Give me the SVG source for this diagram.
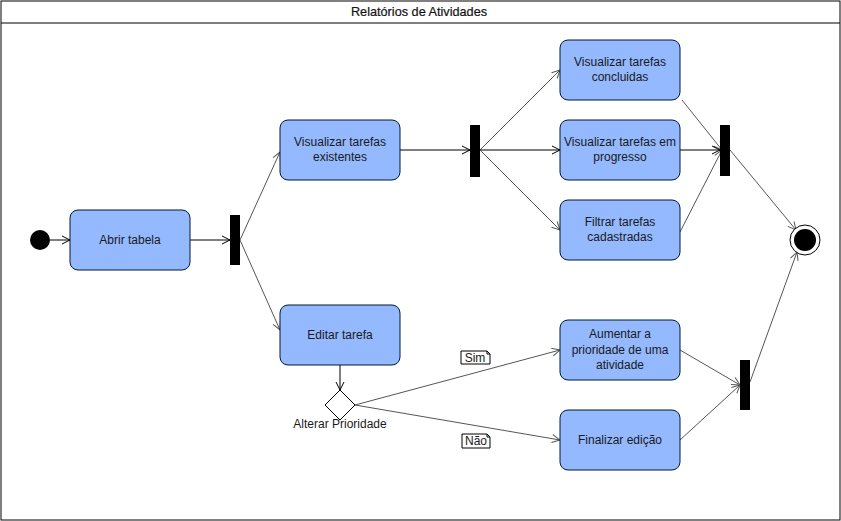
<svg xmlns="http://www.w3.org/2000/svg" width="841" height="521" viewBox="0 0 841 521">
<style>
text{font-family:"Liberation Sans",Arial,sans-serif;font-size:12px;fill:#1a1a1a;text-anchor:middle}
.act{fill:#94b9ff;stroke:#001a33;stroke-width:1}
.bar{fill:#000}
.e{fill:none;stroke:#000;stroke-width:1}
.g{fill:none;stroke:#555;stroke-width:1}
.note{fill:#fff;stroke:#000;stroke-width:1}
</style>
<defs>
<marker id="ab" markerWidth="10" markerHeight="10" refX="9" refY="5" orient="auto" markerUnits="userSpaceOnUse"><path d="M1,1 L9,5 L1,9" fill="none" stroke="#000" stroke-width="1"/></marker>
<marker id="ag" markerWidth="10" markerHeight="10" refX="9" refY="5" orient="auto" markerUnits="userSpaceOnUse"><path d="M1,1 L9,5 L1,9" fill="none" stroke="#555" stroke-width="1"/></marker>
</defs>
<rect x="0" y="0" width="841" height="521" fill="#fff"/>
<g id="frame">
<rect x="1" y="1" width="839" height="519" fill="none" stroke="#000"/>
<line x1="1" y1="23" x2="840" y2="23" stroke="#000"/>
<text x="419" y="16" fill="#000" style="font-size:12.7px" stroke="#000" stroke-width="0.2">Relatórios de Atividades</text>
</g>
<g id="connectors">
<line class="e" x1="50" y1="240" x2="70" y2="240" marker-end="url(#ab)"/>
<line class="e" x1="190" y1="240" x2="230" y2="240" marker-end="url(#ab)"/>
<line class="g" x1="240" y1="240" x2="280" y2="152" marker-end="url(#ag)"/>
<line class="g" x1="240" y1="240" x2="280" y2="330" marker-end="url(#ag)"/>
<line class="e" x1="400" y1="150" x2="470" y2="150" marker-end="url(#ab)"/>
<line class="g" x1="480" y1="150" x2="560" y2="70" marker-end="url(#ag)"/>
<line class="e" x1="480" y1="150" x2="560" y2="150" marker-end="url(#ab)"/>
<line class="g" x1="480" y1="150" x2="560" y2="230" marker-end="url(#ag)"/>
<line class="g" x1="682" y1="100" x2="722" y2="150" marker-end="url(#ag)"/>
<line class="e" x1="680" y1="150" x2="720" y2="150" marker-end="url(#ab)"/>
<line class="g" x1="680" y1="232" x2="722" y2="150" marker-end="url(#ag)"/>
<line class="g" x1="730" y1="150" x2="796" y2="230" marker-end="url(#ag)"/>
<line class="e" x1="340" y1="365" x2="340" y2="390" marker-end="url(#ab)"/>
<line class="g" x1="355" y1="405" x2="560" y2="350" marker-end="url(#ag)"/>
<line class="g" x1="355" y1="405" x2="560" y2="440" marker-end="url(#ag)"/>
<line class="g" x1="680" y1="350" x2="740" y2="385" marker-end="url(#ag)"/>
<line class="g" x1="680" y1="440" x2="740" y2="385" marker-end="url(#ag)"/>
<line class="g" x1="750" y1="382" x2="797" y2="252" marker-end="url(#ag)"/>
</g>
<g id="start"><circle cx="40" cy="240" r="10" fill="#000"/></g>
<g id="abrir"><rect class="act" x="70" y="210" width="120" height="60" rx="8"/><text x="130" y="244">Abrir tabela</text></g>
<g id="fork1"><rect class="bar" x="230" y="215" width="10" height="50"/></g>
<g id="vexist"><rect class="act" x="280" y="120" width="120" height="60" rx="8"/><text x="340" y="146">Visualizar tarefas</text><text x="340" y="161">existentes</text></g>
<g id="editar"><rect class="act" x="280" y="305" width="120" height="60" rx="8"/><text x="340" y="339">Editar tarefa</text></g>
<g id="fork2"><rect class="bar" x="470" y="125" width="10" height="52"/></g>
<g id="vconc"><rect class="act" x="560" y="40" width="120" height="60" rx="8"/><text x="620" y="66">Visualizar tarefas</text><text x="620" y="81">concluidas</text></g>
<g id="vprog"><rect class="act" x="560" y="120" width="120" height="60" rx="8"/><text x="620" y="146">Visualizar tarefas em</text><text x="620" y="161">progresso</text></g>
<g id="filtrar"><rect class="act" x="560" y="200" width="120" height="60" rx="8"/><text x="620" y="226">Filtrar tarefas</text><text x="620" y="241">cadastradas</text></g>
<g id="join1"><rect class="bar" x="720" y="125" width="10" height="51"/></g>
<g id="end"><circle cx="805" cy="240" r="15" fill="#fff" stroke="#000"/><circle cx="805" cy="240" r="11" fill="#000"/></g>
<g id="aumentar"><rect class="act" x="560" y="320" width="120" height="60" rx="8"/><text x="620" y="338">Aumentar a</text><text x="620" y="354">prioridade de uma</text><text x="620" y="369">atividade</text></g>
<g id="finalizar"><rect class="act" x="560" y="410" width="120" height="60" rx="8"/><text x="620" y="444">Finalizar edição</text></g>
<g id="join2"><rect class="bar" x="740" y="360" width="10" height="50"/></g>
<g id="decisao"><path d="M340,390 L355,405 L340,420 L325,405 Z" fill="#fff" stroke="#000"/><text x="340" y="428">Alterar Prioridade</text></g>
<g id="sim"><path class="note" d="M461,351 H487 L490,354 V364 H461 Z"/><path d="M487,351 V354 H490" fill="none" stroke="#000"/><text x="475" y="362">Sim</text></g>
<g id="nao"><path class="note" d="M462,434 H487 L490,437 V448 H462 Z"/><path d="M487,434 V437 H490" fill="none" stroke="#000"/><text x="476" y="445">Não</text></g>
</svg>
